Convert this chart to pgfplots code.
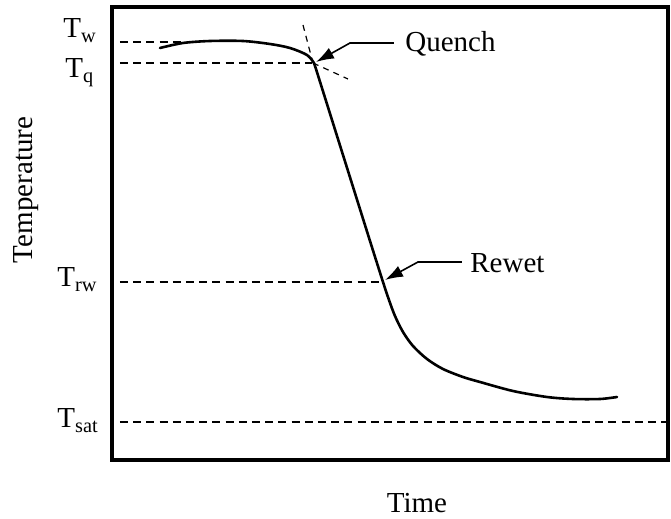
\documentclass[border=0pt]{standalone}
\usepackage{pgfplots}
\pgfplotsset{compat=1.18}
\usepackage{fontspec}
\setmainfont{Liberation Serif}
\usetikzlibrary{arrows.meta}
\begin{document}
\fontsize{14.5}{17}\selectfont
\begin{tikzpicture}
\useasboundingbox (0,0) rectangle (335.5pt,259.5pt);
\begin{axis}[
  at={(56pt,29.5pt)}, anchor=south west,
  scale only axis, width=278pt, height=226.5pt,
  xmin=112, xmax=668, ymin=7, ymax=460, y dir=reverse,
  xtick=\empty, ytick=\empty,
  axis line style={line width=2pt},
  clip=false,
]
% reference temperature lines
\addplot[line width=0.6pt, dash pattern=on 4pt off 2.6pt] coordinates {(120,42) (186,42)};
\addplot[line width=0.6pt, dash pattern=on 4pt off 2.6pt] coordinates {(120,63) (312,63)};
\addplot[line width=0.6pt, dash pattern=on 4pt off 2.6pt] coordinates {(120,282) (383,282)};
\addplot[line width=0.6pt, dash pattern=on 4pt off 2.6pt] coordinates {(120,422) (668,422)};
% tangent lines at quench
\addplot[line width=0.6pt, dash pattern=on 3pt off 2.6pt] coordinates {(303,25) (313,63)};
\addplot[line width=0.6pt, dash pattern=on 3pt off 2.6pt] coordinates {(313,63) (348,79)};
% curve: upper part
\addplot[line width=1.3pt, smooth, line cap=round] coordinates {
 (160,48) (183,43) (210,41) (243,41) (270,44) (290,48) (307,55) (314,63)};
% curve: steep straight part
\addplot[line width=1.3pt, line join=round] coordinates {
 (314,63) (316,69) (370,241)};
% curve: lower part
\addplot[line width=1.3pt, smooth, line cap=round] coordinates {
 (370,241) (383,282) (389,300) (395,316) (403,332) (413,346) (427,359)
 (443,369) (463,377) (480,382) (513,391) (547,397) (573,399) (600,399) (617,397)};
% arrows
\draw[line width=0.8pt, -{Latex[length=9pt,width=6pt]}] (axis cs:394,43) -- (axis cs:350,43) -- (axis cs:316,62);
\draw[line width=0.8pt, -{Latex[length=9pt,width=6pt]}] (axis cs:462,262) -- (axis cs:418,262) -- (axis cs:385,280);
% texts
\node[anchor=base west, inner sep=0pt] at (axis cs:405,52) {Quench};
\node[anchor=base west, inner sep=0pt] at (axis cs:470,273) {Rewet};
\node[anchor=base west, inner sep=0pt] at (axis cs:63,38) {T\textsubscript{w}};
\node[anchor=base west, inner sep=0pt] at (axis cs:65,78) {T\textsubscript{q}};
\node[anchor=base west, inner sep=0pt] at (axis cs:57,287) {T\textsubscript{rw}};
\node[anchor=base west, inner sep=0pt] at (axis cs:57,428) {T\textsubscript{sat}};
\node[rotate=90, inner sep=0pt] at (axis cs:26,190) {Temperature};
\node[anchor=base, inner sep=0pt] at (axis cs:417,513) {Time};
\end{axis}
\end{tikzpicture}
\end{document}
